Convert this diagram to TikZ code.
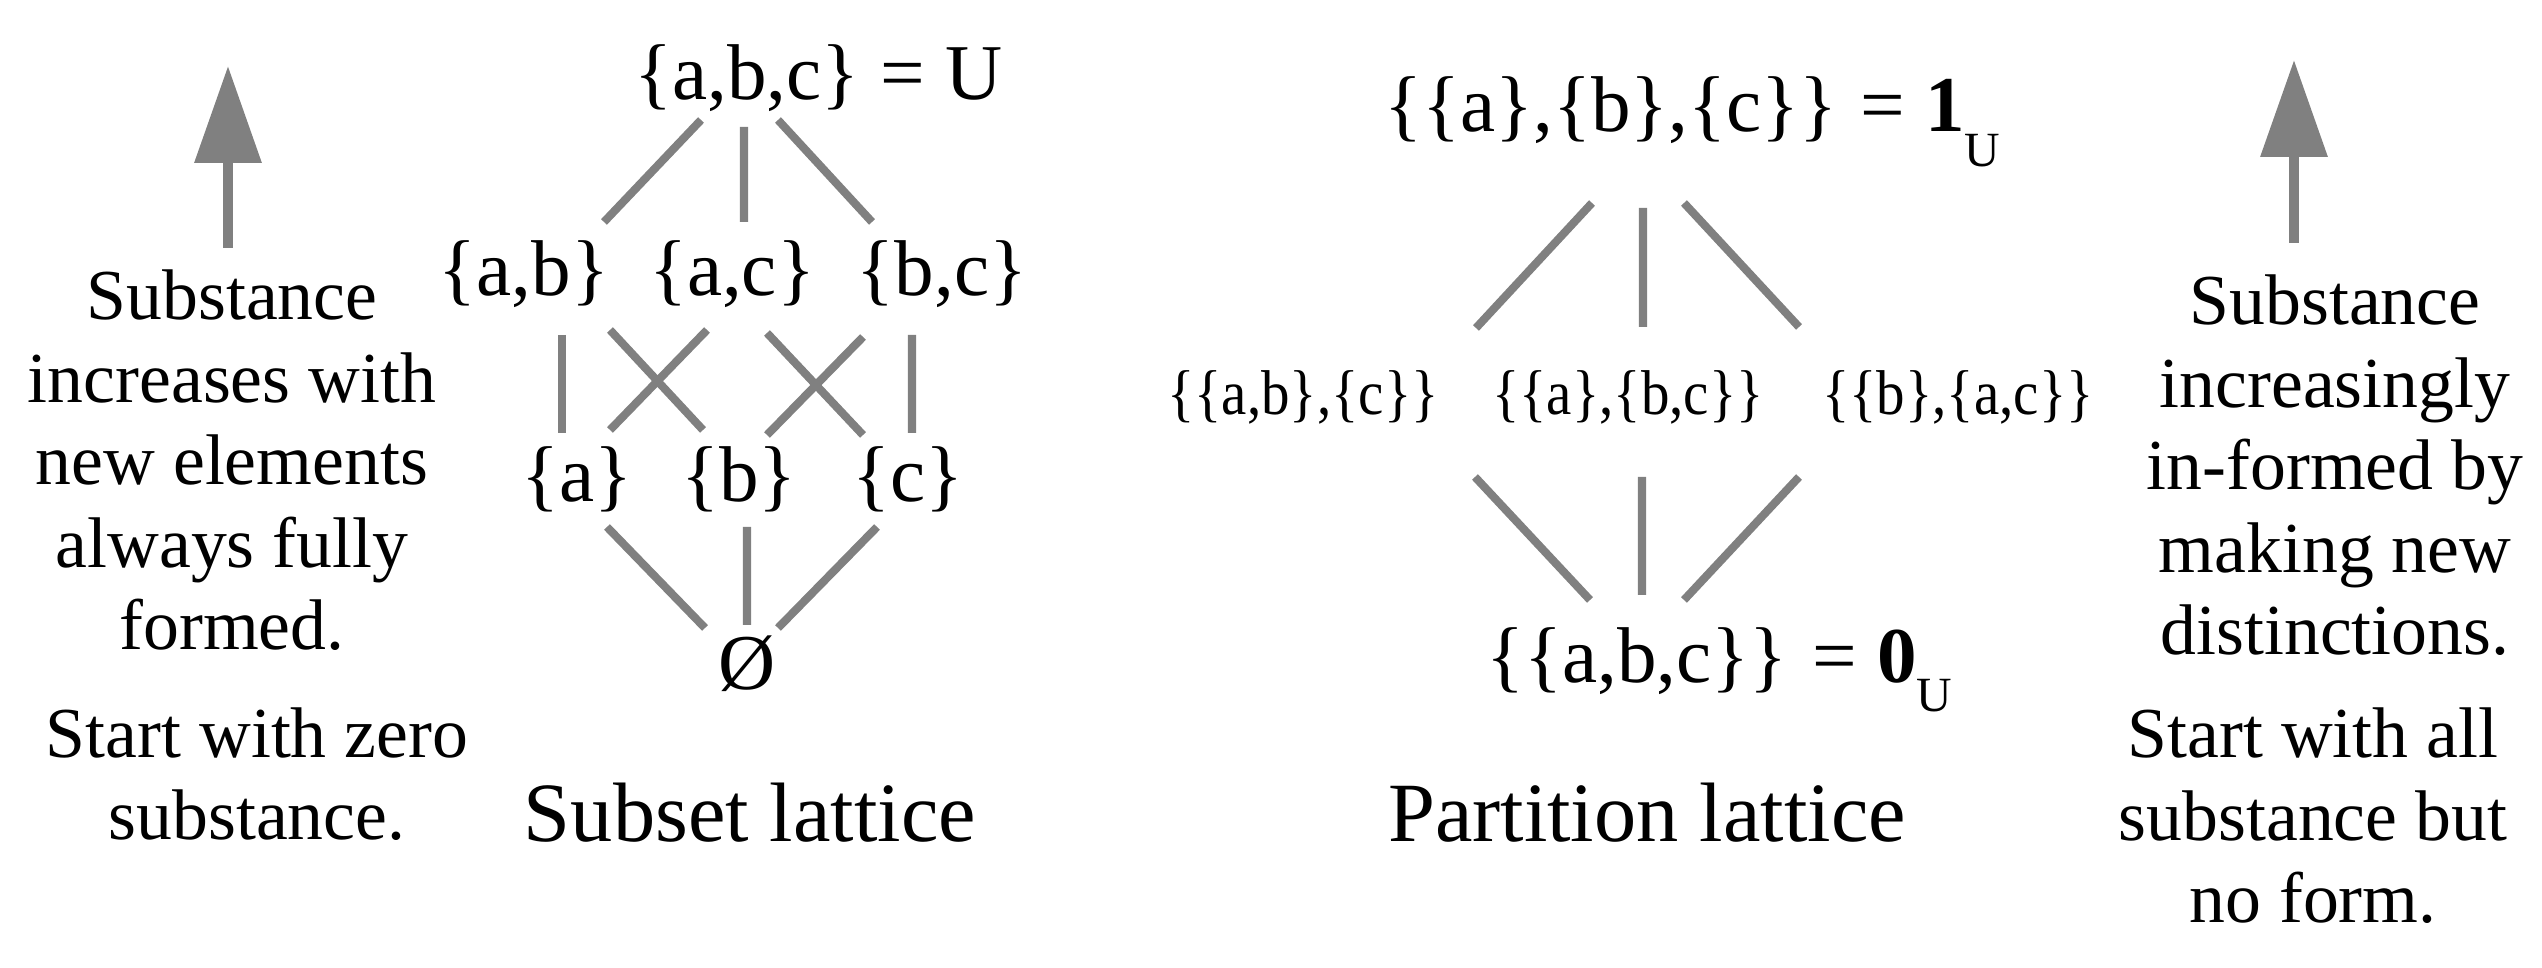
\documentclass[tikz,border=0pt]{standalone}
\usepackage{fontspec}
\setmainfont{Liberation Serif}
\newfontfamily\narrowserif[FakeStretch=0.9]{Liberation Serif}
\usetikzlibrary{arrows.meta}
\definecolor{linegray}{HTML}{808080}

\begin{document}
\begin{tikzpicture}[
  lab/.style={anchor=base,inner sep=0pt,font=\fontsize{22.5}{27}\selectfont},
  midlab/.style={anchor=base,inner sep=0pt,font=\narrowserif\fontsize{18}{22}\selectfont},
  note/.style={anchor=base,inner sep=0pt,align=center,font=\fontsize{20.4}{23.5}\selectfont},
  caption/.style={anchor=base,inner sep=0pt,font=\fontsize{24}{29}\selectfont},
  link/.style={draw=linegray,line width=2.3pt},
  uparrow/.style={draw=linegray,line width=0.1cm,-{Triangle[length=0.97cm,width=0.65cm]}}
]
\useasboundingbox (0,0) rectangle (25.42,9.68);

% left notes (base = last line)
\node[note] (lnote) at (2.32,3.18) {Substance\\increases with\\new elements\\always fully\\formed.};
\node[note] (lstart) at (2.57,1.28) {Start with zero\\substance.};
\coordinate (ltail) at (2.28,7.20);
\coordinate (lhead) at (2.28,9.02);
\draw[uparrow] (ltail) -- (lhead);

% subset lattice
\node[lab] (sU) at (7.47,8.68) {\{a,b,c\}};
\node[lab,anchor=base west] (sUeq) at (8.80,8.68) {= U};
\node[lab] (sab) at (5.24,6.72) {\{a,b\}};
\node[lab] (sac) at (7.32,6.72) {\{a,c\}};
\node[lab] (sbc) at (9.42,6.72) {\{b,c\}};
\node[lab] (sa) at (5.77,4.66) {\{a\}};
\node[lab] (sb) at (7.39,4.66) {\{b\}};
\node[lab] (sc) at (9.08,4.66) {\{c\}};
\node[lab] (s0) at (7.47,2.78) {Ø};
\node[caption] (scap) at (7.50,1.26) {Subset lattice};

\draw[link] ([shift={(-0.46,-0.20)}]sU.base) -- ([shift={(0.80,0.74)}]sab.base);
\draw[link] ([shift={(-0.03,-0.27)}]sU.base) -- ([shift={(0.12,0.74)}]sac.base);
\draw[link] ([shift={(0.31,-0.20)}]sU.base) -- ([shift={(-0.70,0.74)}]sbc.base);
\draw[link] ([shift={(0.38,-0.39)}]sab.base) -- ([shift={(-0.15,0.69)}]sa.base);
\draw[link] ([shift={(0.86,-0.34)}]sab.base) -- ([shift={(-0.36,0.72)}]sb.base);
\draw[link] ([shift={(-0.25,-0.34)}]sac.base) -- ([shift={(0.33,0.72)}]sa.base);
\draw[link] ([shift={(0.35,-0.37)}]sac.base) -- ([shift={(-0.45,0.67)}]sc.base);
\draw[link] ([shift={(-0.79,-0.41)}]sbc.base) -- ([shift={(0.28,0.67)}]sb.base);
\draw[link] ([shift={(-0.30,-0.39)}]sbc.base) -- ([shift={(0.04,0.69)}]sc.base);
\draw[link] ([shift={(0.30,-0.25)}]sa.base) -- ([shift={(-0.42,0.62)}]s0.base);
\draw[link] ([shift={(0.08,-0.25)}]sb.base) -- ([shift={(0,0.65)}]s0.base);
\draw[link] ([shift={(-0.31,-0.25)}]sc.base) -- ([shift={(0.31,0.62)}]s0.base);

% partition lattice
\node[lab] (pTop) at (16.11,8.36) {\{\{a\},\{b\},\{c\}\}};
\node[lab,anchor=base west] (pTopeq) at (18.60,8.36) {= \textbf{1}\raisebox{-0.35cm}{\fontsize{14}{14}\selectfont U}};
\node[midlab] (p1) at (13.03,5.53) {\{\{a,b\},\{c\}\}};
\node[midlab] (p2) at (16.28,5.53) {\{\{a\},\{b,c\}\}};
\node[midlab] (p3) at (19.58,5.53) {\{\{b\},\{a,c\}\}};
\node[lab] (pBot) at (16.37,2.85) {\{\{a,b,c\}\}};
\node[lab,anchor=base west] (pBoteq) at (18.12,2.85) {= \textbf{0}\raisebox{-0.29cm}{\fontsize{14}{14}\selectfont U}};
\node[caption] (pcap) at (16.47,1.26) {Partition lattice};

\draw[link] ([shift={(-0.19,-0.71)}]pTop.base) -- ([shift={(1.73,0.87)}]p1.base);
\draw[link] ([shift={(0.32,-0.76)}]pTop.base) -- ([shift={(0.15,0.88)}]p2.base);
\draw[link] ([shift={(0.73,-0.71)}]pTop.base) -- ([shift={(-1.59,0.88)}]p3.base);
\draw[link] ([shift={(1.72,-0.62)}]p1.base) -- ([shift={(-0.47,0.83)}]pBot.base);
\draw[link] ([shift={(0.14,-0.62)}]p2.base) -- ([shift={(0.05,0.88)}]pBot.base);
\draw[link] ([shift={(-1.59,-0.62)}]p3.base) -- ([shift={(0.47,0.83)}]pBot.base);

% right notes (base = last line)
\node[note] (rnote) at (23.35,3.13) {Substance\\increasingly\\in-formed by\\making new\\distinctions.};
\node[note] (rstart) at (23.13,0.45) {Start with all\\substance but\\no form.};
\coordinate (rtail) at (22.94,7.25);
\coordinate (rhead) at (22.94,9.08);
\draw[uparrow] (rtail) -- (rhead);

\end{tikzpicture}
\end{document}
